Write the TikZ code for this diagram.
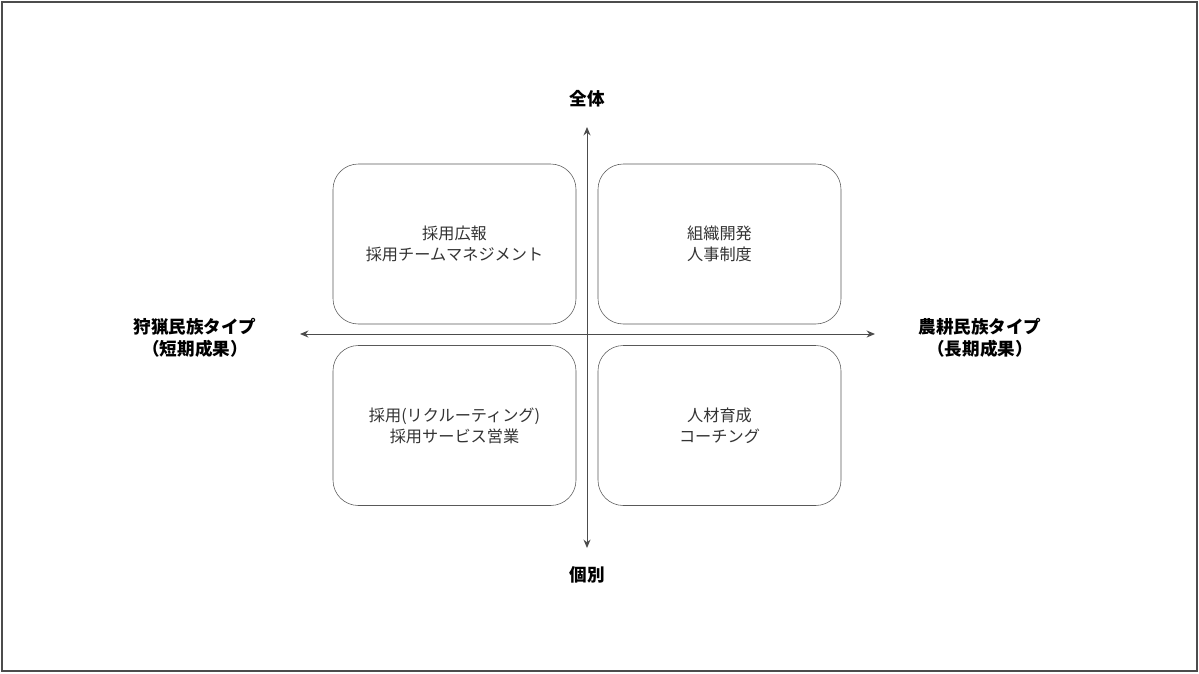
\documentclass[tikz,border=0pt]{standalone}
\usepackage{fontspec}
\setmainfont{Noto Sans CJK JP}
\usetikzlibrary{arrows.meta}

\tikzset{
  cell/.style={draw=black!65,rounded corners=18pt,minimum width=243*0.025cm,minimum height=160*0.025cm,
    align=center,font=\fontsize{11.5}{15}\selectfont,text=black!80},
  axislabel/.style={align=center,font=\fontsize{12.5}{16}\selectfont\bfseries},
  axis/.style={draw=black!70,line width=0.7pt,{Stealth[length=6pt,width=5pt]}-{Stealth[length=6pt,width=5pt]}}
}

\begin{document}
\begin{tikzpicture}[x=0.025cm,y=-0.025cm]
\useasboundingbox (0,0) rectangle (1199,673);
\draw[black!70,line width=1.5pt] (2,2) rectangle (1197,671);

% axes end points
\coordinate (xl) at (300,334);
\coordinate (xr) at (875,334);
\coordinate (yt) at (587,127);
\coordinate (yb) at (587,548);
\draw[axis] (xl) -- (xr);
\draw[axis] (yt) -- (yb);

% quadrants
\node[cell] (tl) at (454.5,244) {採用広報\\採用チームマネジメント};
\node[cell] (tr) at (719.5,244) {組織開発\\人事制度};
\node[cell] (bl) at (454.5,425.5) {採用(リクルーティング)\\採用サービス営業};
\node[cell] (br) at (719.5,425.5) {人材育成\\コーチング};

% axis labels
\node[axislabel] (top) at (587,99) {全体};
\node[axislabel] (bottom) at (587,575) {個別};
\node[axislabel] (left) at (195,338) {狩猟民族タイプ\\（短期成果）};
\node[axislabel] (right) at (980,338) {農耕民族タイプ\\（長期成果）};
\end{tikzpicture}
\end{document}
